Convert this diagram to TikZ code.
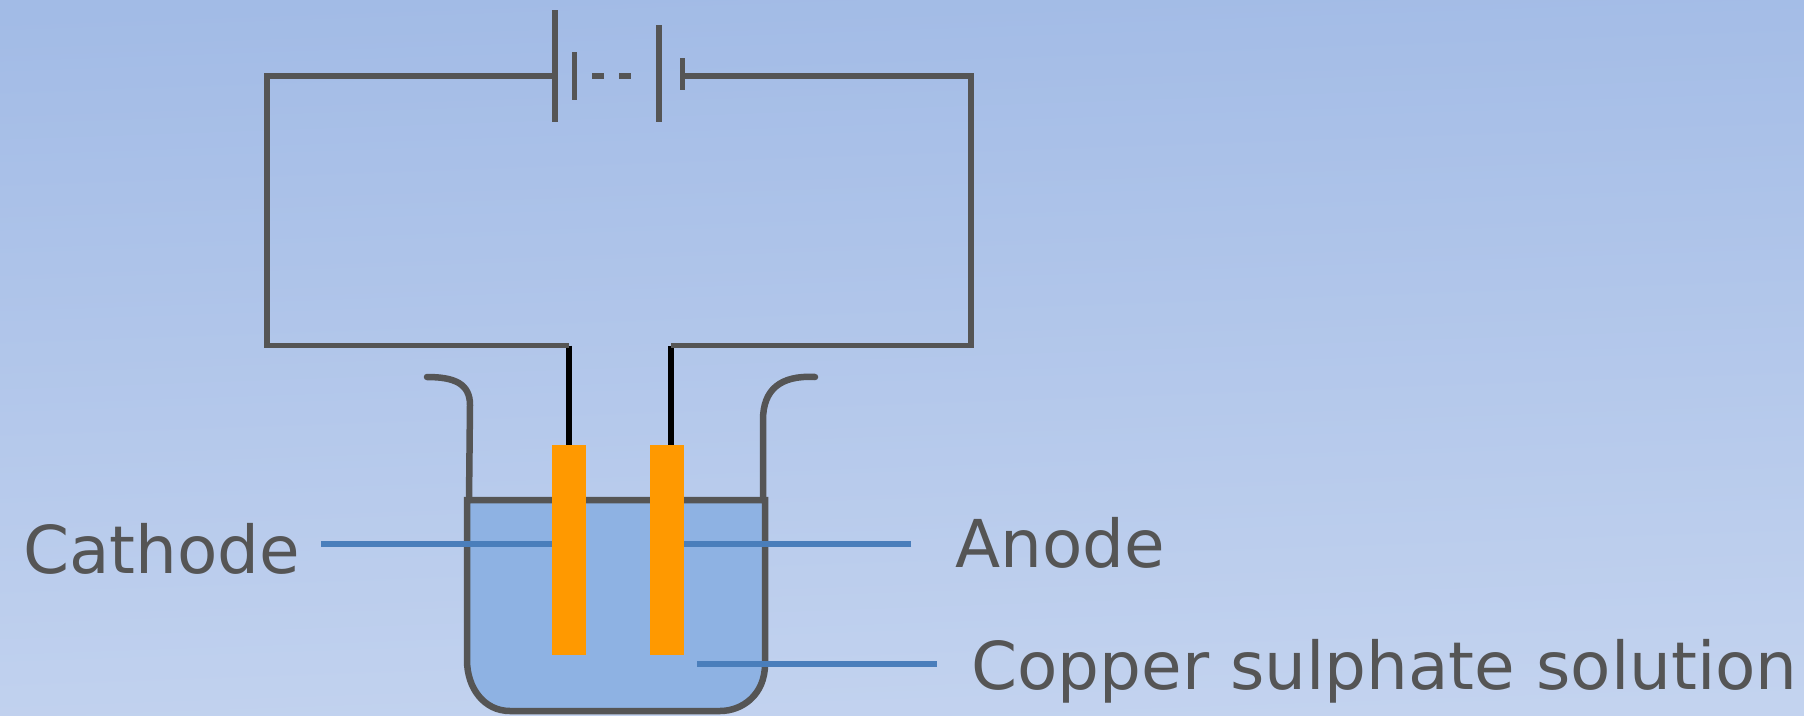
\documentclass[tikz,border=0pt]{standalone}
\usepackage{fontspec}
\setmainfont{DejaVu Sans}
\usepackage{tikz}
\usetikzlibrary{positioning}
\definecolor{wiregray}{HTML}{555555}
\definecolor{liquidblue}{HTML}{8EB2E3}
\definecolor{leaderblue}{HTML}{4A7EBB}
\definecolor{plateorange}{HTML}{FF9900}
\definecolor{bgtop}{HTML}{A2BBE6}
\definecolor{bgbottom}{HTML}{C3D3EF}

\begin{document}
\begin{tikzpicture}[
    x=1pt, y=-1pt,
    wire/.style={draw=wiregray, line width=5.5pt},
    lead/.style={draw=black, line width=5.5pt},
    leader/.style={draw=leaderblue, line width=5.5pt},
    vessel/.style={draw=wiregray, line width=6.5pt},
    electrode/.style={rectangle, fill=plateorange, inner sep=0pt,
                      minimum width=34pt, minimum height=210pt},
    tag/.style={anchor=base west, inner sep=0pt, text=wiregray,
                font=\fontsize{66}{72}\selectfont}
]
  \useasboundingbox (0,0) rectangle (1804,715);
  \fill[top color=bgtop, bottom color=bgbottom, shading angle=2] (0,0) rectangle (1804,715);

  % battery
  \coordinate (cellA) at (555,76);
  \coordinate (cellD) at (682.5,76);
  \draw[wire] (555,10) -- (555,122);
  \draw[wire] (574.5,52) -- (574.5,100);
  \draw[wire] (592,76) -- (604,76);
  \draw[wire] (619,76) -- (631,76);
  \draw[wire] (659,25) -- (659,122);
  \draw[wire] (682.5,58) -- (682.5,90);

  % beaker
  \draw[vessel, fill=liquidblue] (467,500) -- (765,500) -- (765,664)
    .. controls (765,695) and (742,711) .. (720,711) -- (510,711)
    .. controls (484,711) and (467,688) .. (467,660) -- cycle;
  \draw[vessel, line cap=round] (469,500) -- (470,405)
    .. controls (470,384) and (455,377) .. (427,377);
  \draw[vessel, line cap=round] (763,500) -- (763,420)
    .. controls (763,390) and (780,375) .. (815,377);

  % electrodes
  \node[electrode] (cathode) at (569,550) {};
  \node[electrode] (anode)   at (667,550) {};
  \coordinate (cathodetop) at (569,345.5);
  \coordinate (anodetop)   at (671,345.5);
  \draw[lead] (cathodetop) -- (cathodetop |- cathode.north);
  \draw[lead] (anodetop) -- (anodetop |- anode.north);

  % circuit
  \draw[wire] (cellA) -| (267,345.5) -- (cathodetop);
  \draw[wire] (cellD) -| (971,345.5) -- (anodetop);

  % labels
  \node[tag] (cathodelabel) at (23,573.5) {Cathode};
  \node[tag] (anodelabel)   at (955,567) {Anode};
  \node[tag] (solutionlabel) at (971,689) {Copper sulphate solution};
  \coordinate (cathodeline) at (321,544);
  \coordinate (anodeline)   at (911,544);
  \coordinate (solutionend) at (697,664);
  \coordinate (solutionline) at (937,664);
  \draw[leader] (cathodeline) -- (cathodeline -| cathode.west);
  \draw[leader] (anodeline) -- (anodeline -| anode.east);
  \draw[leader] (solutionend) -- (solutionline);
\end{tikzpicture}
\end{document}
